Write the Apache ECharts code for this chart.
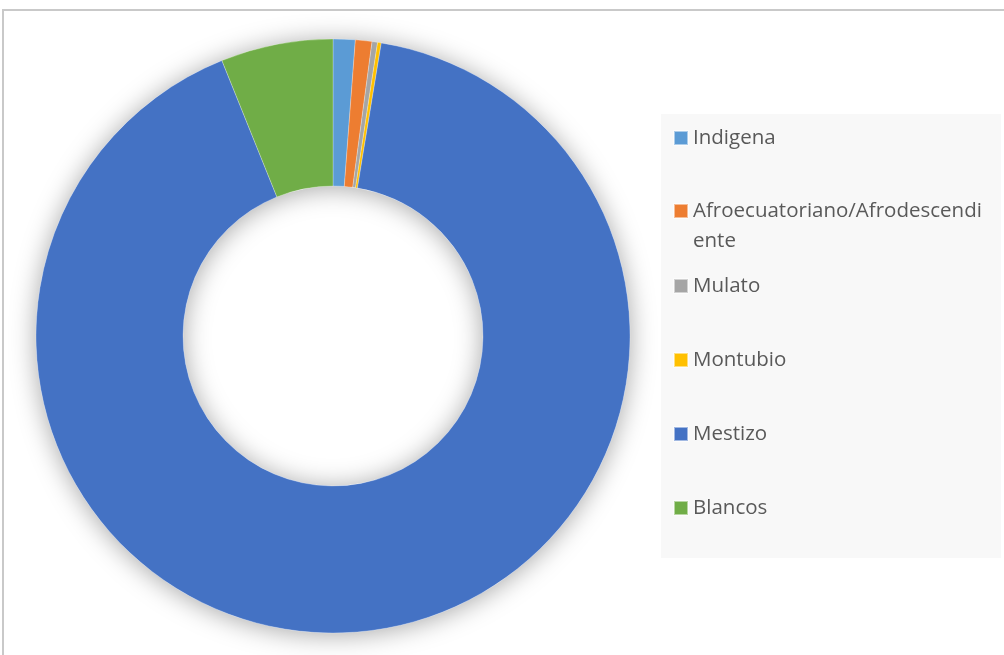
<!DOCTYPE html>
<html>
<head>
<meta charset="utf-8">
<script src="https://cdn.jsdelivr.net/npm/echarts@6/dist/echarts.min.js"></script>
<style>
html,body{margin:0;padding:0;background:#fff;}
#chart{width:1004px;height:655px;}
</style>
</head>
<body>
<div id="chart"></div>
<script>
var categories = ['Indigena', 'Afroecuatoriano/Afrodescendiente', 'Mulato', 'Montubio', 'Mestizo', 'Blancos'];
var legendLabels = ['Indigena', '\nAfroecuatoriano/Afrodescendi\nente', 'Mulato', 'Montubio', 'Mestizo', 'Blancos'];
var values = [1.2, 0.9, 0.3, 0.2, 91.3, 6.1];
var colors = ['#5B9BD5', '#ED7D31', '#A5A5A5', '#FFC000', '#4472C4', '#70AD47'];

var total = values.reduce(function (a, b) { return a + b; }, 0);
var data = categories.map(function (c, i) {
  return { name: c, value: values[i], itemStyle: { color: colors[i] } };
});

var legendTops = [126, 166, 274, 348, 422, 496];
var legends = categories.map(function (c, i) {
  var isWrapped = legendLabels[i].indexOf('\n') >= 0;
  return {
    show: true,
    orient: 'vertical',
    left: 673,
    top: legendTops[i],
    padding: 0,
    icon: 'rect',
    itemWidth: 14,
    itemHeight: 14,
    selectedMode: false,
    data: [c],
    formatter: function () { return legendLabels[i]; },
    textStyle: {
      fontFamily: 'Open Sans',
      fontSize: 20.5,
      color: '#595959',
      lineHeight: isWrapped ? 30 : 24
    }
  };
});

var chart = echarts.init(document.getElementById('chart'), null, { renderer: 'canvas' });
chart.setOption({
  animation: false,
  backgroundColor: '#ffffff',
  graphic: [
    {
      type: 'rect', z: -10, silent: true,
      shape: { x: 3, y: 10, width: 1200, height: 1000 },
      style: { fill: 'none', stroke: '#c9c9c9', lineWidth: 2 }
    },
    {
      type: 'rect', z: -5, silent: true,
      shape: { x: 661, y: 114, width: 340, height: 444 },
      style: { fill: '#f8f8f8' }
    }
  ],
  legend: legends,
  series: [
    {
      type: 'pie',
      silent: true,
      z: 1,
      center: [333, 336],
      radius: [150, 297],
      label: { show: false },
      labelLine: { show: false },
      emphasis: { disabled: true },
      data: [{ name: '', value: total }],
      itemStyle: {
        color: '#ffffff',
        shadowBlur: 26,
        shadowColor: 'rgba(0,0,0,0.35)',
        shadowOffsetY: 2
      }
    },
    {
      type: 'pie',
      z: 2,
      center: [333, 336],
      radius: [150, 297],
      startAngle: 90,
      clockwise: true,
      label: { show: false },
      labelLine: { show: false },
      emphasis: { disabled: true },
      itemStyle: { borderColor: 'rgba(255,255,255,0.5)', borderWidth: 0.5 },
      data: data
    }
  ]
});
</script>
</body>
</html>
